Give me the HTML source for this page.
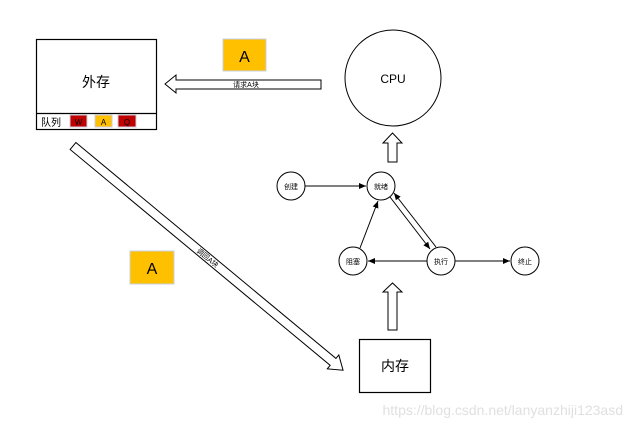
<!DOCTYPE html>
<html><head><meta charset="utf-8"><style>
html,body{margin:0;padding:0;background:#fff}
svg{display:block}
text{font-family:"Liberation Sans","Noto Sans CJK SC",sans-serif;fill:#000}
</style></head><body>
<svg width="632" height="428" viewBox="0 0 632 428">
<defs><marker id="ah" markerWidth="8" markerHeight="8" refX="7" refY="4" orient="auto" markerUnits="userSpaceOnUse"><path d="M0,1 L7,4 L0,7 Z" fill="#000"/></marker></defs>
<!-- 外存 -->
<rect x="36.5" y="39.5" width="120" height="90" fill="#fff" stroke="#000" stroke-width="1.2"/>
<line x1="36.5" y1="113.5" x2="156.5" y2="113.5" stroke="#000" stroke-width="1.2"/>
<text x="96" y="87" font-size="14" text-anchor="middle">外存</text>
<text x="41" y="126" font-size="10">队列</text>
<rect x="70" y="115" width="17" height="12" fill="#c00000" stroke="#ccd" stroke-width="1"/>
<text x="78.5" y="125" font-size="8" text-anchor="middle">W</text>
<rect x="95" y="115" width="17" height="12" fill="#ffc000" stroke="#ccd" stroke-width="1"/>
<text x="103.5" y="125" font-size="8" text-anchor="middle">A</text>
<rect x="118" y="115" width="18" height="12" fill="#c00000" stroke="#ccd" stroke-width="1"/>
<text x="127" y="125" font-size="8" text-anchor="middle">Q</text>
<!-- A boxes -->
<rect x="223" y="39" width="43" height="32" fill="#ffc000" stroke="#c8d0e0" stroke-width="1"/>
<text x="244.5" y="62" font-size="16" text-anchor="middle">A</text>
<rect x="130" y="251" width="44" height="33" fill="#ffc000" stroke="#c8d0e0" stroke-width="1"/>
<text x="152" y="274" font-size="16" text-anchor="middle">A</text>
<!-- left arrow -->
<path d="M321,80 L176,80 L176,75 L165,84 L176,93 L176,89 L321,89 Z" fill="#fff" stroke="#000" stroke-width="1"/>
<text x="246" y="87" font-size="7" text-anchor="middle" fill="#333">请求A块</text>
<!-- CPU -->
<circle cx="393" cy="78" r="48" fill="#fff" stroke="#000" stroke-width="1"/>
<text x="393" y="83" font-size="12" text-anchor="middle">CPU</text>
<!-- up arrows -->
<path d="M388,162 L388,143 L383,143 L392.5,133 L402,143 L397,143 L397,162 Z" fill="#fff" stroke="#000" stroke-width="1"/>
<path d="M388,330 L388,292 L383,292 L392.5,283 L402,292 L397,292 L397,330 Z" fill="#fff" stroke="#000" stroke-width="1"/>
<!-- state circles -->
<g stroke="#000" stroke-width="1" fill="#fff">
<circle cx="291" cy="186" r="14"/><circle cx="381" cy="186" r="14"/>
<circle cx="353" cy="261" r="14"/><circle cx="441" cy="261" r="14"/>
<circle cx="525" cy="261" r="14"/>
</g>
<g font-size="7" text-anchor="middle">
<text x="291" y="189">创建</text><text x="381" y="189">就绪</text>
<text x="353" y="264">阻塞</text><text x="441" y="264">执行</text>
<text x="525" y="264">终止</text>
</g>
<g stroke="#000" stroke-width="1" marker-end="url(#ah)">
<line x1="305" y1="186" x2="366" y2="186"/>
<line x1="390" y1="197" x2="430" y2="249"/>
<line x1="436" y1="247" x2="394" y2="193"/>
<line x1="360" y1="248" x2="378" y2="201"/>
<line x1="427" y1="261" x2="368" y2="261"/>
<line x1="455" y1="261" x2="510" y2="261"/>
</g>
<!-- diagonal arrow -->
<g transform="translate(73,146) rotate(39.7)">
<path d="M0,-4.5 L338,-4.5 L338,-9 L351,0 L338,9 L338,4.5 L0,4.5 Z" fill="#fff" stroke="#000" stroke-width="1"/>
<text x="175" y="2.5" font-size="7" text-anchor="middle" fill="#333">调回A块</text>
</g>
<!-- 内存 -->
<rect x="359.5" y="339.5" width="71" height="53" fill="#fff" stroke="#000" stroke-width="1.2"/>
<text x="395" y="371" font-size="14" text-anchor="middle">内存</text>
<text x="623" y="415" font-size="14" text-anchor="end" style="fill:#e0e0e0">https://blog.csdn.net/lanyanzhiji123asd</text>
</svg>
</body></html>
